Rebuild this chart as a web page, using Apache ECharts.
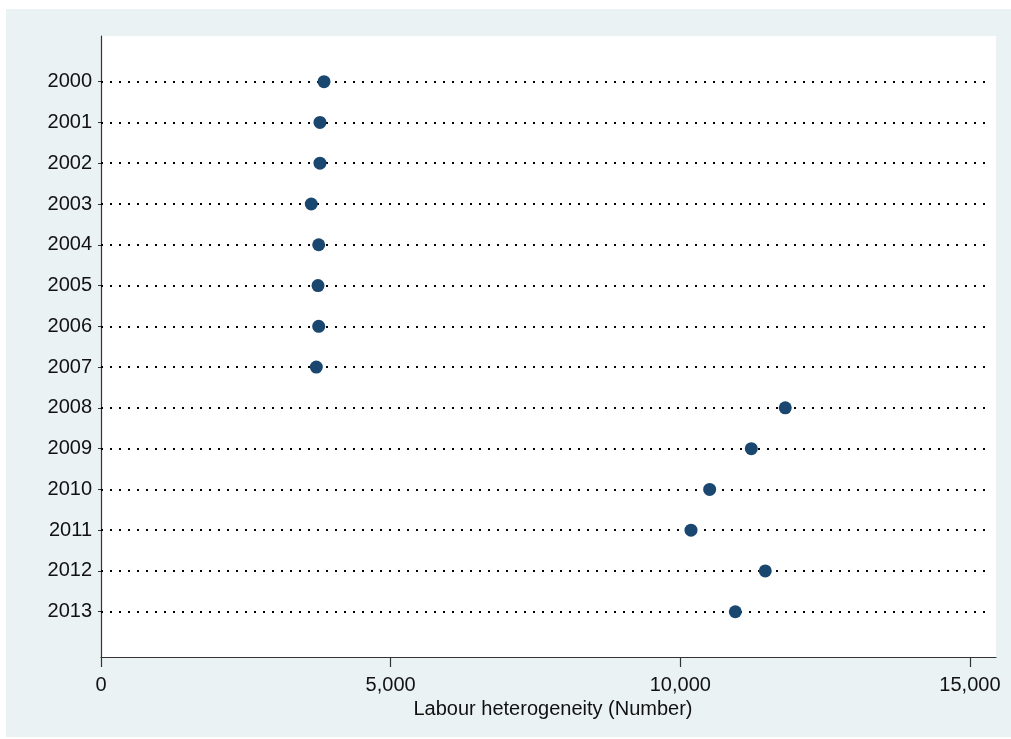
<!DOCTYPE html>
<html>
<head>
<meta charset="utf-8">
<script src="https://cdn.jsdelivr.net/npm/echarts@6/dist/echarts.min.js"></script>
<style>
html,body{margin:0;padding:0;background:#fff;}
#c{width:1011px;height:739px;}
</style>
</head>
<body>
<div id="c"></div>
<script>
// Data
var years = ['2000','2001','2002','2003','2004','2005','2006','2007','2008','2009','2010','2011','2012','2013'];
var values = [3850, 3780, 3780, 3630, 3758, 3746, 3758, 3717, 11812, 11226, 10507, 10185, 11467, 10950];
var xTicks = [0, 5000, 10000, 15000];
var xTitle = 'Labour heterogeneity (Number)';

var FONT = '"Liberation Sans", Arial, Helvetica, sans-serif';
var navy = '#1A476F';
var lineEnd = 15330;

var yIdx = years.map(function(_, i){ return i; });
var pts = values.map(function(v, i){ return [v, i]; });
var guides = yIdx.map(function(i){ return [{coord:[0, i]}, {coord:[lineEnd, i]}]; });

var chart = echarts.init(document.getElementById('c'), null, {renderer:'canvas'});
chart.setOption({
  backgroundColor: '#ffffff',
  animation: false,
  graphic: [{
    type: 'rect', z: -100, silent: true,
    shape: {x: 6, y: 9, width: 1005, height: 728},
    style: {fill: '#EAF2F3'}
  }],
  grid: {
    left: 101, right: 15, top: 36, bottom: 82,
    show: true, backgroundColor: '#ffffff', borderWidth: 0
  },
  xAxis: {
    type: 'value', min: 0, max: 15450,
    name: xTitle, nameLocation: 'middle', nameGap: 40,
    nameTextStyle: {fontFamily: FONT, fontSize: 20, color: '#111', padding: [0, 0, 0, 9]},
    axisLine: {show: true, onZero: false, lineStyle: {color: '#333', width: 1.2}},
    axisTick: {show: true, length: 10, customValues: xTicks, lineStyle: {color: '#333', width: 1.2}},
    axisLabel: {
      customValues: xTicks, margin: 18,
      fontFamily: FONT, fontSize: 20, color: '#111',
      formatter: function(v){ return v.toLocaleString('en-US'); }
    },
    splitLine: {show: false}
  },
  yAxis: {
    type: 'value', inverse: true, min: -1.12, max: 14.11,
    axisLine: {show: true, onZero: false, lineStyle: {color: '#333', width: 1.2}},
    axisTick: {show: true, length: 3, customValues: yIdx, lineStyle: {color: '#333', width: 1}},
    axisLabel: {
      customValues: yIdx, margin: 9,
      fontFamily: FONT, fontSize: 20, color: '#111',
      formatter: function(v){ return years[Math.round(v)]; }
    },
    splitLine: {show: false}
  },
  series: [
    {
      type: 'scatter', data: [], z: 1, silent: true,
      markLine: {
        silent: true, symbol: ['none','none'], label: {show: false},
        lineStyle: {color: '#000', width: 2, type: [2, 7], cap: 'butt'},
        emphasis: {disabled: true},
        data: guides
      }
    },
    {
      type: 'scatter', z: 5, data: pts,
      symbol: 'circle', symbolSize: 13,
      itemStyle: {color: navy, opacity: 1}
    }
  ]
});
</script>
</body>
</html>
